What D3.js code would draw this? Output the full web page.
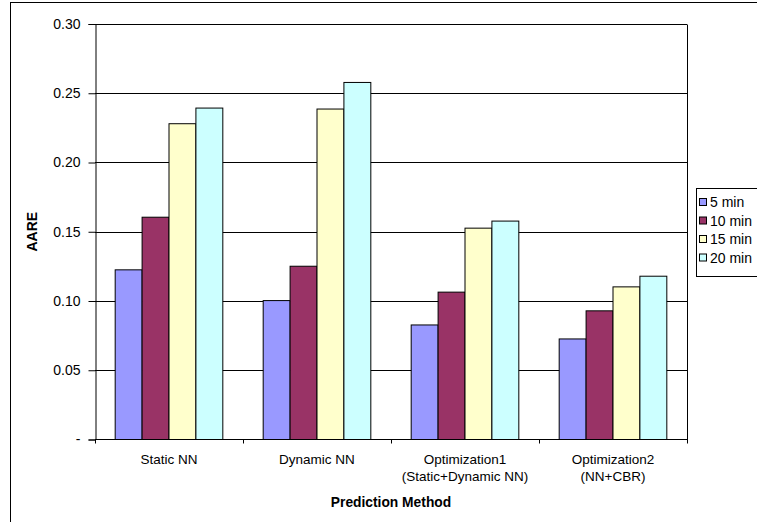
<!DOCTYPE html>
<html>
<head>
<meta charset="utf-8">
<script src="https://cdn.jsdelivr.net/npm/d3@7"></script>
<style>
  html, body { margin: 0; padding: 0; background: #fff; }
  svg { display: block; font-family: "Liberation Sans", Arial, sans-serif; }
</style>
</head>
<body>
<svg id="chart" width="757" height="522"></svg>
<script>
// Prediction methods (x categories; multi-line labels)
const categories = ["Static NN", "Dynamic NN", "Optimization1", "Optimization2"];
const categoryLines = [["Static NN"], ["Dynamic NN"], ["Optimization1", "(Static+Dynamic NN)"], ["Optimization2", "(NN+CBR)"]];

// Prediction horizons (series)
const seriesNames = ["5 min", "10 min", "15 min", "20 min"];
const seriesColors = ["#9999FF", "#993366", "#FFFFCC", "#CCFFFF"];

// AARE per method, one array per horizon
const min5  = [0.1225, 0.1003, 0.0827, 0.0726];
const min10 = [0.1605, 0.1251, 0.1064, 0.0929];
const min15 = [0.2280, 0.2386, 0.1526, 0.1102];
const min20 = [0.2393, 0.2578, 0.1577, 0.1179];
const seriesValues = [min5, min10, min15, min20];

const yTicks = [0, 0.05, 0.10, 0.15, 0.20, 0.25, 0.30];
const yTickLabels = ["-", "0.05", "0.10", "0.15", "0.20", "0.25", "0.30"];

const svg = d3.select("#chart");

// Outer chart frame
svg.append("rect")
  .attr("x", 10.5).attr("y", 2.5)
  .attr("width", 760).attr("height", 540)
  .attr("fill", "none").attr("stroke", "#000").attr("stroke-width", 1);

const plot = { left: 95, top: 24, right: 687, bottom: 439.5 };

const x0 = d3.scaleBand()
  .domain(categories)
  .range([plot.left, plot.right])
  .paddingInner(0).paddingOuter(0);

// Excel-style gap width of 150%: bars occupy 4 / 5.5 of each group
const groupW = x0.bandwidth();
const barW = groupW / (seriesNames.length + 1.5);
const groupPad = (groupW - barW * seriesNames.length) / 2;

const y = d3.scaleLinear().domain([0, 0.30]).range([plot.bottom, plot.top]);

// Gridlines
svg.append("g")
  .selectAll("line")
  .data(yTicks.filter(t => t > 0))
  .join("line")
  .attr("x1", plot.left).attr("x2", plot.right)
  .attr("y1", d => Math.round(y(d)) + 0.5).attr("y2", d => Math.round(y(d)) + 0.5)
  .attr("stroke", "#000").attr("stroke-width", 1);

// Plot area right border
svg.append("line")
  .attr("x1", plot.right + 0.5).attr("x2", plot.right + 0.5)
  .attr("y1", Math.round(y(0.30)) + 0.5).attr("y2", plot.bottom)
  .attr("stroke", "#000");

// Bars
const bars = [];
categories.forEach((c, i) => {
  seriesValues.forEach((vals, s) => {
    bars.push({ cat: c, s, v: vals[i] });
  });
});
svg.append("g")
  .selectAll("rect")
  .data(bars)
  .join("rect")
  .attr("x", d => x0(d.cat) + groupPad + d.s * barW)
  .attr("y", d => y(d.v))
  .attr("width", barW)
  .attr("height", d => y(0) - y(d.v))
  .attr("fill", d => seriesColors[d.s])
  .attr("stroke", "#000").attr("stroke-width", 1);

// Y axis
const yAxis = d3.axisLeft(y)
  .tickValues(yTicks)
  .tickFormat((d, i) => yTickLabels[i])
  .tickSize(7).tickPadding(8);
const gy = svg.append("g")
  .attr("transform", `translate(${plot.left + 0.5},0)`)
  .call(yAxis);
gy.select(".domain").attr("stroke", "#000");
gy.selectAll(".tick line").attr("stroke", "#000");
gy.selectAll(".tick text").attr("font-size", 14).attr("fill", "#000")
  .attr("font-family", "Liberation Sans, Arial, sans-serif");

// X axis line with boundary ticks
const gx = svg.append("g");
gx.append("line")
  .attr("x1", plot.left).attr("x2", plot.right + 1)
  .attr("y1", plot.bottom).attr("y2", plot.bottom)
  .attr("stroke", "#000").attr("stroke-width", 1.2);
const boundaries = categories.map(c => x0(c)).concat([plot.right]);
gx.selectAll("line.tk")
  .data(boundaries)
  .join("line")
  .attr("class", "tk")
  .attr("x1", d => Math.round(d) + 0.5).attr("x2", d => Math.round(d) + 0.5)
  .attr("y1", plot.bottom).attr("y2", plot.bottom + 4)
  .attr("stroke", "#000");

// Category labels
categories.forEach((c, i) => {
  const t = svg.append("text")
    .attr("x", x0(c) + groupW / 2)
    .attr("y", 464)
    .attr("text-anchor", "middle")
    .attr("font-size", 13.5).attr("fill", "#000");
  categoryLines[i].forEach((line, j) => {
    t.append("tspan")
      .attr("x", x0(c) + groupW / 2)
      .attr("dy", j === 0 ? 0 : 17)
      .text(line);
  });
});

// Axis titles
svg.append("text")
  .attr("x", (plot.left + plot.right) / 2)
  .attr("y", 506.5)
  .attr("text-anchor", "middle")
  .attr("font-size", 13.8).attr("font-weight", "bold")
  .text("Prediction Method");

svg.append("text")
  .attr("transform", `translate(37, ${(plot.top + plot.bottom) / 2}) rotate(-90)`)
  .attr("text-anchor", "middle")
  .attr("font-size", 14).attr("font-weight", "bold")
  .text("AARE");

// Legend
const legend = svg.append("g");
legend.append("rect")
  .attr("x", 696.5).attr("y", 188.5)
  .attr("width", 80).attr("height", 88)
  .attr("fill", "#fff").attr("stroke", "#000");
const rowY = [202, 220.5, 239, 257.5];
seriesNames.forEach((name, i) => {
  legend.append("rect")
    .attr("x", 699.5).attr("y", rowY[i] - 3.5)
    .attr("width", 7).attr("height", 7)
    .attr("fill", seriesColors[i]).attr("stroke", "#000");
  legend.append("text")
    .attr("x", 710).attr("y", rowY[i] + 5)
    .attr("font-size", 14).attr("fill", "#000")
    .text(name);
});
</script>
</body>
</html>
